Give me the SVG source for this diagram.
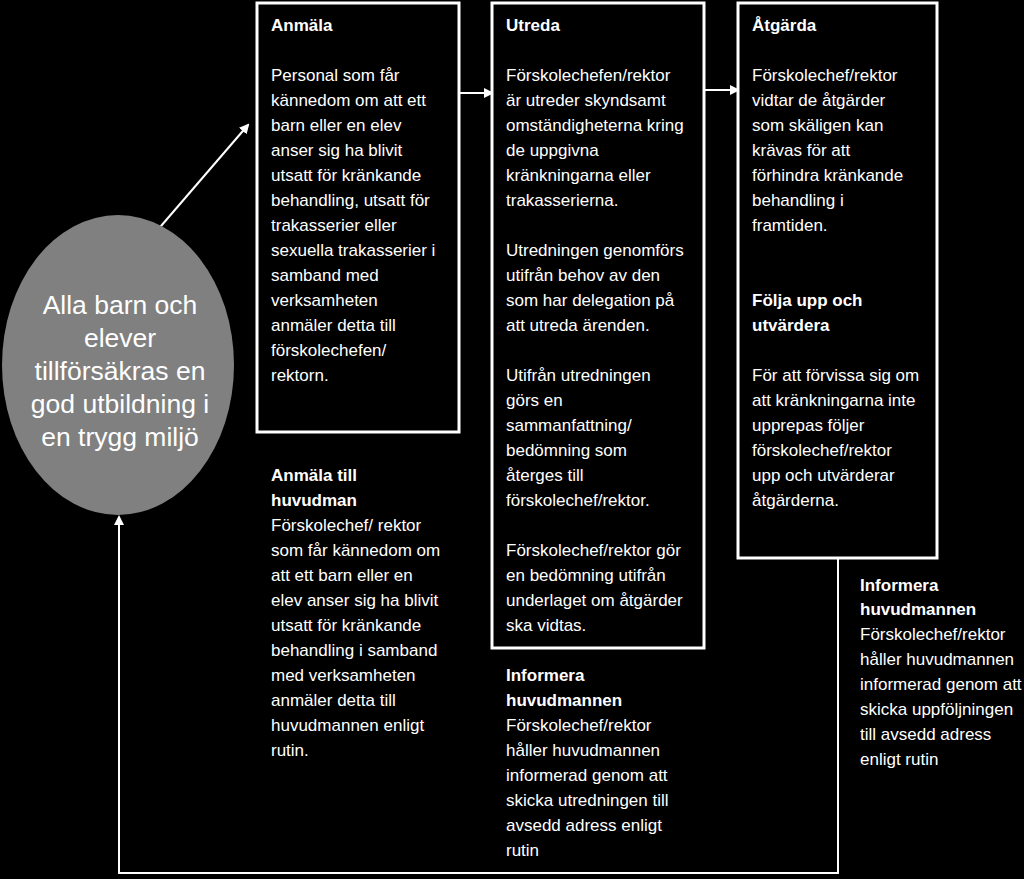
<svg xmlns="http://www.w3.org/2000/svg" width="1024" height="879" viewBox="0 0 1024 879">
<defs>
<style>
text{font-family:"Liberation Sans",Arial,sans-serif;fill:#fff;font-size:17px}
.b{font-weight:bold}
.box{fill:#000;stroke:#fff;stroke-width:3}
.c{stroke:#fff;stroke-width:2;fill:none}
.e{font-size:26.5px;text-anchor:middle}
</style>
<marker id="a" markerWidth="10" markerHeight="10" refX="8" refY="5" orient="auto" markerUnits="userSpaceOnUse"><path d="M0,0L10,5L0,10z" fill="#fff"/></marker>
</defs>
<rect width="1024" height="879" fill="#000"/>
<g id="connectors">
<line class="c" x1="155" y1="233" x2="248" y2="125" marker-end="url(#a)"/>
<line class="c" x1="459" y1="93" x2="492" y2="93" marker-end="url(#a)"/>
<line class="c" x1="704" y1="90" x2="738" y2="90" marker-end="url(#a)"/>
<polyline class="c" points="838,558 838,873 119,873 119,517" marker-end="url(#a)"/>
</g>
<g id="goal">
<ellipse cx="118" cy="365" rx="116" ry="150" fill="#808080"/>
<text class="e" x="120" y="314">Alla barn och</text>
<text class="e" x="120" y="347">elever</text>
<text class="e" x="120" y="380">tillförsäkras en</text>
<text class="e" x="120" y="413">god utbildning i</text>
<text class="e" x="120" y="446">en trygg miljö</text>
</g>
<g id="anmala">
<rect class="box" x="257" y="3" width="202" height="429"/>
<text class="b" x="271" y="31">Anmäla</text>
<text x="271" y="81">Personal som får</text>
<text x="271" y="106">kännedom om att ett</text>
<text x="271" y="131">barn eller en elev</text>
<text x="271" y="156">anser sig ha blivit</text>
<text x="271" y="181">utsatt för kränkande</text>
<text x="271" y="206">behandling, utsatt för</text>
<text x="271" y="231">trakasserier eller</text>
<text x="271" y="256">sexuella trakasserier  i</text>
<text x="271" y="281">samband med</text>
<text x="271" y="306">verksamheten</text>
<text x="271" y="331">anmäler detta till</text>
<text x="271" y="356">förskolechefen/</text>
<text x="271" y="381">rektorn.</text>
</g>
<g id="anmala-huvudman">
<text class="b" x="271" y="481">Anmäla till</text>
<text class="b" x="271" y="506">huvudman</text>
<text x="271" y="531">Förskolechef/ rektor</text>
<text x="271" y="556">som får kännedom om</text>
<text x="271" y="581">att ett barn eller en</text>
<text x="271" y="606">elev anser sig ha blivit</text>
<text x="271" y="631">utsatt för kränkande</text>
<text x="271" y="656">behandling i samband</text>
<text x="271" y="681">med verksamheten</text>
<text x="271" y="706">anmäler detta till</text>
<text x="271" y="731">huvudmannen enligt</text>
<text x="271" y="756">rutin.</text>
</g>
<g id="utreda">
<rect class="box" x="492" y="3" width="212" height="645"/>
<text class="b" x="506" y="31">Utreda</text>
<text x="506" y="81">Förskolechefen/rektor</text>
<text x="506" y="106">är utreder skyndsamt</text>
<text x="506" y="131">omständigheterna kring</text>
<text x="506" y="156">de uppgivna</text>
<text x="506" y="181">kränkningarna eller</text>
<text x="506" y="206">trakasserierna.</text>
<text x="506" y="256">Utredningen genomförs</text>
<text x="506" y="281">utifrån behov av den</text>
<text x="506" y="306">som har delegation på</text>
<text x="506" y="331">att utreda ärenden.</text>
<text x="506" y="381">Utifrån utredningen</text>
<text x="506" y="406">görs en</text>
<text x="506" y="431">sammanfattning/</text>
<text x="506" y="456">bedömning som</text>
<text x="506" y="481">återges till</text>
<text x="506" y="506">förskolechef/rektor.</text>
<text x="506" y="556">Förskolechef/rektor gör</text>
<text x="506" y="581">en bedömning utifrån</text>
<text x="506" y="606">underlaget om åtgärder</text>
<text x="506" y="631">ska vidtas.</text>
</g>
<g id="informera-1">
<text class="b" x="506" y="681">Informera</text>
<text class="b" x="506" y="706">huvudmannen</text>
<text x="506" y="731">Förskolechef/rektor</text>
<text x="506" y="756">håller huvudmannen</text>
<text x="506" y="781">informerad genom att</text>
<text x="506" y="806">skicka utredningen till</text>
<text x="506" y="831">avsedd adress enligt</text>
<text x="506" y="856">rutin</text>
</g>
<g id="atgarda">
<rect class="box" x="738" y="3" width="199" height="555"/>
<text class="b" x="752" y="31">Åtgärda</text>
<text x="752" y="81">Förskolechef/rektor</text>
<text x="752" y="106">vidtar de åtgärder</text>
<text x="752" y="131">som skäligen kan</text>
<text x="752" y="156">krävas för att</text>
<text x="752" y="181">förhindra kränkande</text>
<text x="752" y="206">behandling i</text>
<text x="752" y="231">framtiden.</text>
<text class="b" x="752" y="306">Följa upp och</text>
<text class="b" x="752" y="331">utvärdera</text>
<text x="752" y="381">För att förvissa sig om</text>
<text x="752" y="406">att kränkningarna inte</text>
<text x="752" y="431">upprepas följer</text>
<text x="752" y="456">förskolechef/rektor</text>
<text x="752" y="481">upp och utvärderar</text>
<text x="752" y="506">åtgärderna.</text>
</g>
<g id="informera-2">
<text class="b" x="860" y="591">Informera</text>
<text class="b" x="860" y="615">huvudmannen</text>
<text x="860" y="640">Förskolechef/rektor</text>
<text x="860" y="665">håller huvudmannen</text>
<text x="860" y="690">informerad genom att</text>
<text x="860" y="715">skicka uppföljningen</text>
<text x="860" y="740">till avsedd adress</text>
<text x="860" y="765">enligt rutin</text>
</g>
</svg>
